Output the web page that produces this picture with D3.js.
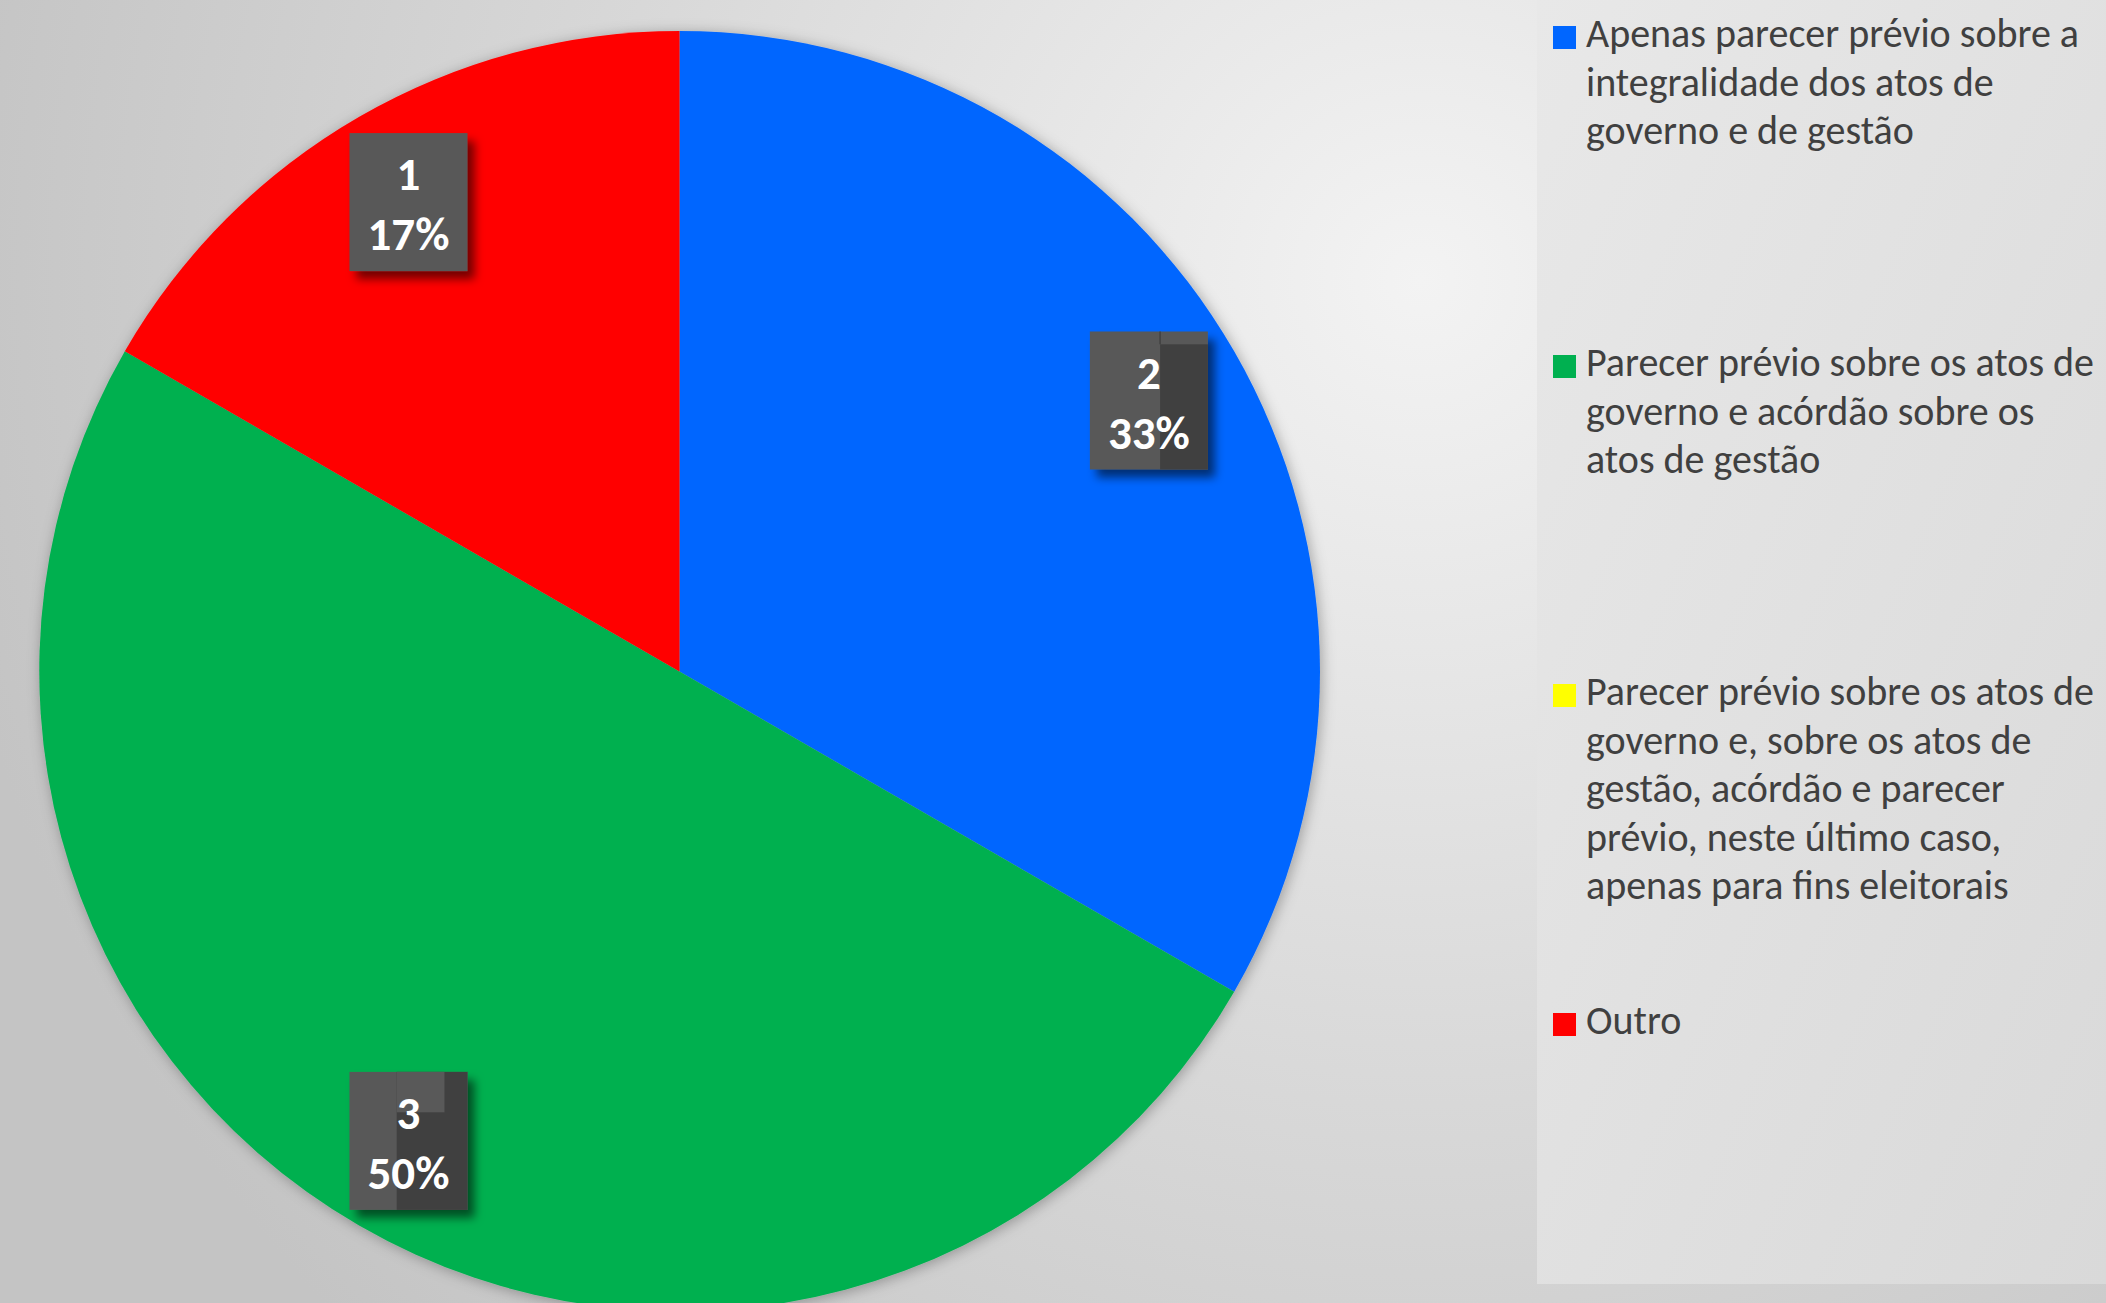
<!DOCTYPE html>
<html>
<head>
<meta charset="utf-8">
<script src="https://cdn.jsdelivr.net/npm/d3@7"></script>
<style>
  html, body { margin: 0; padding: 0; background: #d4d4d4; }
  svg { display: block; }
</style>
</head>
<body>
<svg id="chart" width="2106" height="1303"></svg>
<script>
// Survey answers: how the audit court judges the mayor's accounts
const categories = [
  "Apenas parecer prévio sobre a\nintegralidade dos atos de\ngoverno e de gestão",
  "Parecer prévio sobre os atos de\ngoverno e acórdão sobre os\natos de gestão",
  "Parecer prévio sobre os atos de\ngoverno e, sobre os atos de\ngestão, acórdão e parecer\nprévio, neste último caso,\napenas para fins eleitorais",
  "Outro"
];
const counts = [2, 3, 0, 1];
const sliceColors = ["#0066FF", "#00B050", "#FFFF00", "#FF0000"];

const W = 2106, H = 1303;
const svg = d3.select("#chart");
const defs = svg.append("defs");

// backdrop: soft radial light coming from upper right
const bg = defs.append("radialGradient").attr("id", "bgGrad")
  .attr("gradientUnits", "userSpaceOnUse")
  .attr("cx", 1420).attr("cy", 280).attr("r", 1500);
bg.append("stop").attr("offset", 0).attr("stop-color", "#f3f3f3");
bg.append("stop").attr("offset", 0.55).attr("stop-color", "#d8d8d8");
bg.append("stop").attr("offset", 1).attr("stop-color", "#c4c4c4");

const panelGrad = defs.append("linearGradient").attr("id", "panelGrad")
  .attr("x1", 0).attr("y1", 0).attr("x2", 1).attr("y2", 1);
panelGrad.append("stop").attr("offset", 0).attr("stop-color", "#e8e8e8");
panelGrad.append("stop").attr("offset", 1).attr("stop-color", "#d9d9d9");

const pieShadow = defs.append("filter").attr("id", "pieShadow")
  .attr("x", "-10%").attr("y", "-10%").attr("width", "120%").attr("height", "120%");
pieShadow.append("feDropShadow").attr("dx", 2).attr("dy", 2)
  .attr("stdDeviation", 7).attr("flood-color", "#000").attr("flood-opacity", 0.3);

const boxShadow = defs.append("filter").attr("id", "boxShadow")
  .attr("x", "-30%").attr("y", "-30%").attr("width", "160%").attr("height", "160%");
boxShadow.append("feDropShadow").attr("dx", 7).attr("dy", 8)
  .attr("stdDeviation", 5).attr("flood-color", "#000").attr("flood-opacity", 0.55);

svg.append("rect").attr("width", W).attr("height", H).attr("fill", "url(#bgGrad)");

// legend panel
svg.append("rect")
  .attr("x", 1537).attr("y", 0).attr("width", W - 1537).attr("height", 1284)
  .attr("fill", "url(#panelGrad)");

// ---- pie ----
const cx = 679.5, cy = 671.5, R = 640.5;
const total = d3.sum(counts);
const pie = d3.pie().sort(null).value(d => d)(counts);
const arc = d3.arc().innerRadius(0).outerRadius(R);
const labelArc = d3.arc().innerRadius(542).outerRadius(542);

const g = svg.append("g").attr("transform", `translate(${cx},${cy})`);
g.append("g").attr("filter", "url(#pieShadow)")
  .selectAll("path").data(pie).join("path")
  .attr("d", arc)
  .attr("fill", (d, i) => sliceColors[i]);

// ---- data labels ----
const pct = d3.format(".0%");
const boxW = 118, boxH = 138;
const labels = g.selectAll("g.lbl").data(pie.filter(d => d.value > 0)).join("g")
  .attr("class", "lbl")
  .attr("transform", d => {
    const [x, y] = labelArc.centroid(d);
    return `translate(${x},${y})`;
  });

labels.append("rect")
  .attr("x", -boxW / 2).attr("y", -boxH / 2)
  .attr("width", boxW).attr("height", boxH)
  .attr("fill", "#595959")
  .attr("filter", "url(#boxShadow)");

// darker right-hand panels on the "2" and "3" boxes
labels.filter(d => d.value === 2).append("rect")
  .attr("x", -boxW / 2 + boxW * 0.595).attr("y", -boxH / 2 + boxH * 0.093)
  .attr("width", boxW * 0.405).attr("height", boxH * 0.907)
  .attr("fill", "#404040");
labels.filter(d => d.value === 2).append("line")
  .attr("x1", -boxW / 2 + boxW * 0.595).attr("x2", -boxW / 2 + boxW * 0.595)
  .attr("y1", -boxH / 2).attr("y2", -boxH / 2 + boxH * 0.093)
  .attr("stroke", "#404040").attr("stroke-width", 1.5);
labels.filter(d => d.value === 3).append("rect")
  .attr("x", -boxW / 2 + boxW * 0.4).attr("y", -boxH / 2)
  .attr("width", boxW * 0.6).attr("height", boxH)
  .attr("fill", "#404040");
labels.filter(d => d.value === 3).append("rect")
  .attr("x", -boxW / 2 + boxW * 0.4).attr("y", -boxH / 2)
  .attr("width", boxW * 0.405).attr("height", boxH * 0.293)
  .attr("fill", "#595959");

const lblFont = "Carlito, Calibri, Lato, 'Open Sans', sans-serif";
labels.append("text")
  .attr("text-anchor", "middle").attr("y", -boxH / 2 + 57)
  .attr("font-family", lblFont).attr("font-weight", 700).attr("font-size", 47)
  .attr("fill", "#fff")
  .text(d => d.value);
labels.append("text")
  .attr("text-anchor", "middle").attr("y", -boxH / 2 + 117)
  .attr("font-family", lblFont).attr("font-weight", 700).attr("font-size", 47)
  .attr("fill", "#fff")
  .text(d => pct(d.value / total));

// ---- legend ----
const legFont = "Carlito, Calibri, Lato, 'Open Sans', sans-serif";
// size the legend text so its widest line spans the same width as the layout
const probe = svg.append("text").attr("font-family", legFont).attr("font-size", 100)
  .text("Parecer prévio sobre os atos de");
const legSize = Math.min(40, 100 * 516 / probe.node().getComputedTextLength());
probe.remove();

const legY = d3.scalePoint().domain(d3.range(categories.length)).range([47, 1034]);
const lineH = 48.5;
const leg = svg.append("g").selectAll("g").data(categories).join("g")
  .attr("transform", (d, i) => `translate(1553,${legY(i)})`);
leg.append("rect")
  .attr("x", 0).attr("y", -21).attr("width", 23).attr("height", 23)
  .attr("fill", (d, i) => sliceColors[i]);
leg.append("text")
  .attr("x", 33)
  .attr("font-family", legFont).attr("font-size", legSize)
  .attr("fill", "#404040")
  .selectAll("tspan").data(d => d.split("\n")).join("tspan")
  .attr("x", 33).attr("y", (d, j) => j * lineH)
  .text(d => d);
</script>
</body>
</html>
